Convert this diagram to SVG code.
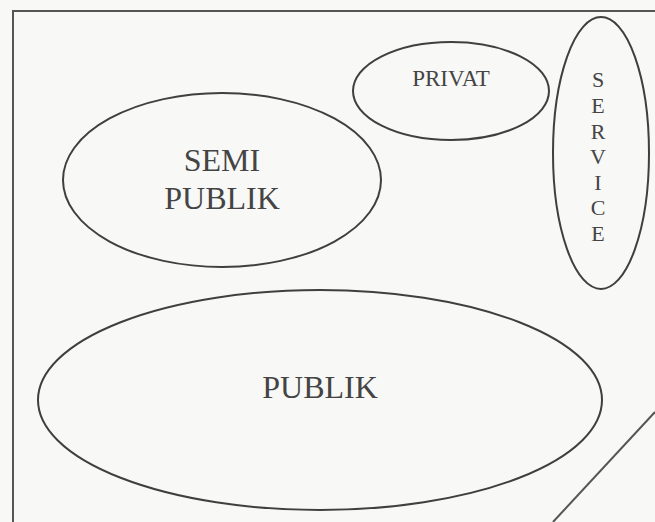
<svg xmlns="http://www.w3.org/2000/svg" width="655" height="522" viewBox="0 0 655 522">
<style>
.zone{fill:none;stroke:#3f3f3f;stroke-width:2}
.frame{fill:none;stroke:#555;stroke-width:2}
.lbl{font-family:"Liberation Serif","Times New Roman",serif;fill:#444;text-anchor:middle}
</style>
<rect width="655" height="522" fill="#f8f8f7"/>
<g id="frame">
<path class="frame" d="M13,522 L13,11 L655,11"/>
<path class="frame" d="M655,412 L553,522" stroke-width="1.8"/>
</g>
<g id="semi-publik">
<ellipse class="zone" cx="222" cy="180" rx="159" ry="87"/>
<text class="lbl" x="222" y="171" font-size="32">SEMI</text>
<text class="lbl" x="222" y="209" font-size="32">PUBLIK</text>
</g>
<g id="privat">
<ellipse class="zone" cx="451" cy="91" rx="98" ry="49"/>
<text class="lbl" x="451" y="86" font-size="23">PRIVAT</text>
</g>
<g id="service">
<ellipse class="zone" cx="601" cy="153" rx="48" ry="136"/>
<text class="lbl" font-size="22"><tspan x="598" y="87">S</tspan><tspan x="598" y="113">E</tspan><tspan x="598" y="139">R</tspan><tspan x="598" y="164">V</tspan><tspan x="598" y="190">I</tspan><tspan x="598" y="215">C</tspan><tspan x="598" y="241">E</tspan></text>
</g>
<g id="publik">
<ellipse class="zone" cx="320" cy="400" rx="282" ry="110"/>
<text class="lbl" x="320" y="398" font-size="32">PUBLIK</text>
</g>
<g id="connectors"></g>
</svg>
